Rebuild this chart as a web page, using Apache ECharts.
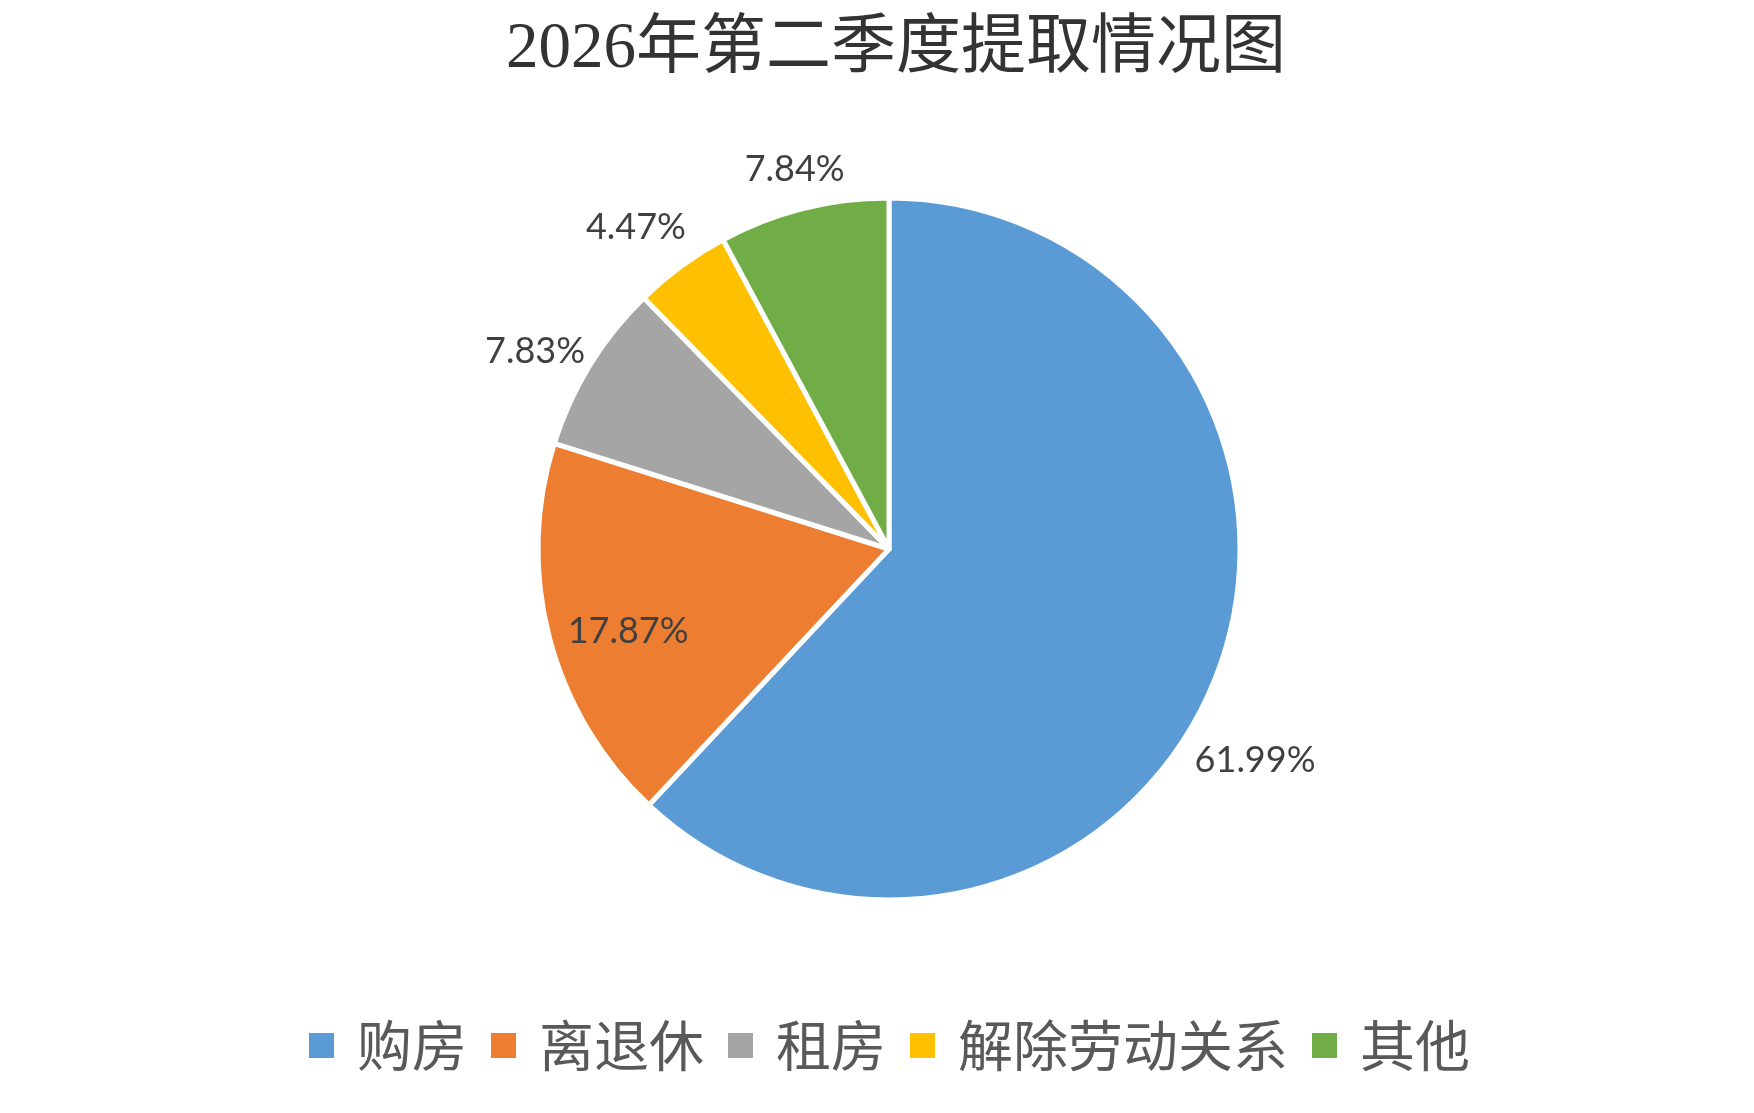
<!DOCTYPE html>
<html>
<head>
<meta charset="utf-8">
<title>2026年第二季度提取情况图</title>
<style>
    html, body {
        margin: 0;
        padding: 0;
        background: #ffffff;
    }

    #main {
        width: 1754px;
        height: 1113px;
    }
</style>
</head>
<body>
<div id="main"></div>
<script src="https://cdn.jsdelivr.net/npm/echarts@6/dist/echarts.min.js"></script>
<script>
    // 数据
    var titleText = '2026年第二季度提取情况图';
    var categories = ['购房', '离退休', '租房', '解除劳动关系', '其他'];
    var shares = [61.99, 17.87, 7.83, 4.47, 7.84];
    var colors = ['#5B9BD5', '#ED7D31', '#A5A5A5', '#FFC000', '#70AD47'];

    // 标签位置微调（引导线长度，引导线本身不显示）
    var labelTweaks = [
        {length: 225, length2: -235},
        {length: -27, length2: -118},
        {length: 27, length2: -23},
        {length: 48, length2: -38},
        {length: 40, length2: -56}
    ];

    var pieData = categories.map(function (name, i) {
        return {
            name: name,
            value: shares[i],
            itemStyle: {color: colors[i]},
            labelLine: {show: false, length: labelTweaks[i].length, length2: labelTweaks[i].length2}
        };
    });

    var myChart = echarts.init(document.getElementById('main'));

    var option = {
        backgroundColor: '#ffffff',
        animation: false,
        title: {
            text: titleText,
            left: 891,
            textAlign: 'center',
            top: 12,
            textStyle: {
                fontFamily: "'Liberation Serif', 'Noto Sans CJK SC'",
                fontSize: 65,
                fontWeight: 'normal',
                color: '#333333'
            }
        },
        legend: {
            data: categories,
            bottom: 35,
            left: 302,
            icon: 'rect',
            itemWidth: 27,
            itemHeight: 27,
            itemGap: 22,
            textStyle: {
                fontFamily: "'Noto Sans CJK SC'",
                fontSize: 55,
                color: '#595959',
                padding: [0, 0, 0, 17]
            }
        },
        series: [{
            type: 'pie',
            center: [889, 549],
            radius: 351,
            startAngle: 90,
            clockwise: true,
            avoidLabelOverlap: false,
            itemStyle: {
                borderColor: '#ffffff',
                borderWidth: 5
            },
            label: {
                show: true,
                position: 'outside',
                formatter: function (p) {
                    return p.value.toFixed(2) + '%';
                },
                fontFamily: 'Lato',
                fontSize: 36,
                color: '#404040'
            },
            labelLine: {show: false},
            data: pieData
        }]
    };

    myChart.setOption(option);
</script>
</body>
</html>
